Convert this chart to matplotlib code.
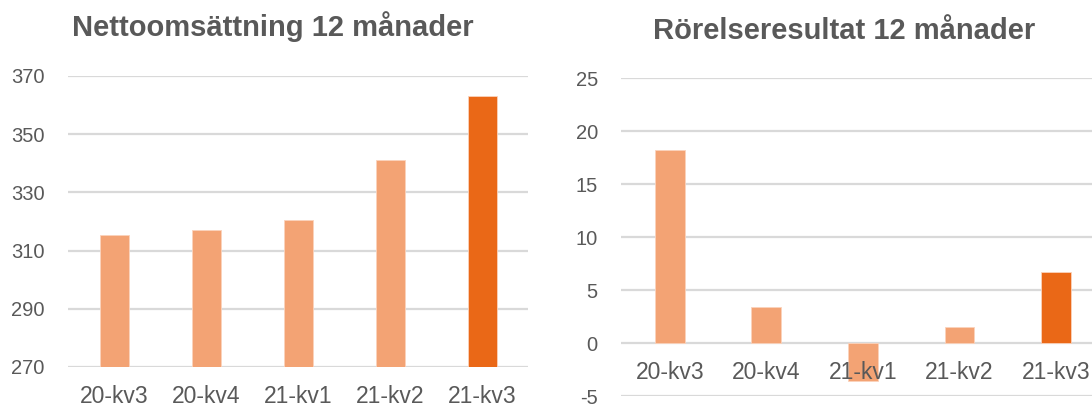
import matplotlib
matplotlib.use("Agg")
import matplotlib.pyplot as plt
import numpy as np

kvartal = ["20-kv3", "20-kv4", "21-kv1", "21-kv2", "21-kv3"]
omsattning = [315.2, 317.0, 320.5, 341.2, 363.1]
rorelseresultat = [18.2, 3.4, -3.6, 1.5, 6.7]

titel_oms = "Nettoomsättning 12 månader"
titel_ror = "Rörelseresultat 12 månader"

ljus = "#F3A374"
mork = "#EA6817"
grid = "#D9D9D9"
text = "#595959"

plt.rcParams["font.family"] = ["Liberation Sans", "DejaVu Sans"]
plt.rcParams["axes.unicode_minus"] = False

fig = plt.figure(figsize=(10.92, 4.05), dpi=100)
ax1 = fig.add_axes([68.3 / 1092, 38 / 405, 460 / 1092, 291 / 405])
ax2 = fig.add_axes([621.4 / 1092, 8.7 / 405, 483 / 1092, 318 / 405])

# kategoriaxeln korsar vid 0 i resultatdiagrammet (sätts före tick-stilen)
ax2.spines["bottom"].set_position(("data", 0))

farger = [ljus] * (len(kvartal) - 1) + [mork]
x = np.arange(len(kvartal))

for ax, data, lim, steg in [(ax1, omsattning, (270, 370), 20),
                            (ax2, rorelseresultat, (-5, 25), 5)]:
    yticks = np.arange(lim[0], lim[1] + 1, steg)
    # stödlinjer bakom staplarna, etiketterna ovanpå
    for y in yticks:
        ax.axhline(y, color=grid, linewidth=1.6, zorder=0.5)
    ax.bar(x, data, width=0.31, color=farger, edgecolor="#FBD3BC",
           linewidth=0.6, zorder=2)
    ax.set_axisbelow(False)
    ax.set_ylim(*lim)
    ax.set_xlim(-0.5, len(kvartal) - 0.5)
    ax.set_yticks(yticks)
    for s in ax.spines.values():
        s.set_visible(False)
    ax.set_xticks(x)
    ax.set_xticklabels(kvartal)
    ax.tick_params(axis="y", length=0, pad=17, labelsize=14.5, labelcolor=text)
    ax.tick_params(axis="x", length=0, pad=13, labelsize=16.5, labelcolor=text)

fig.text(273.3 / 1092, 1 - 36 / 405, titel_oms, ha="center", va="baseline",
         fontsize=21, fontweight="bold", color=text)
fig.text(844 / 1092, 1 - 39.3 / 405, titel_ror, ha="center", va="baseline",
         fontsize=21, fontweight="bold", color=text)

fig.savefig("out.png", dpi=100, facecolor="white")
